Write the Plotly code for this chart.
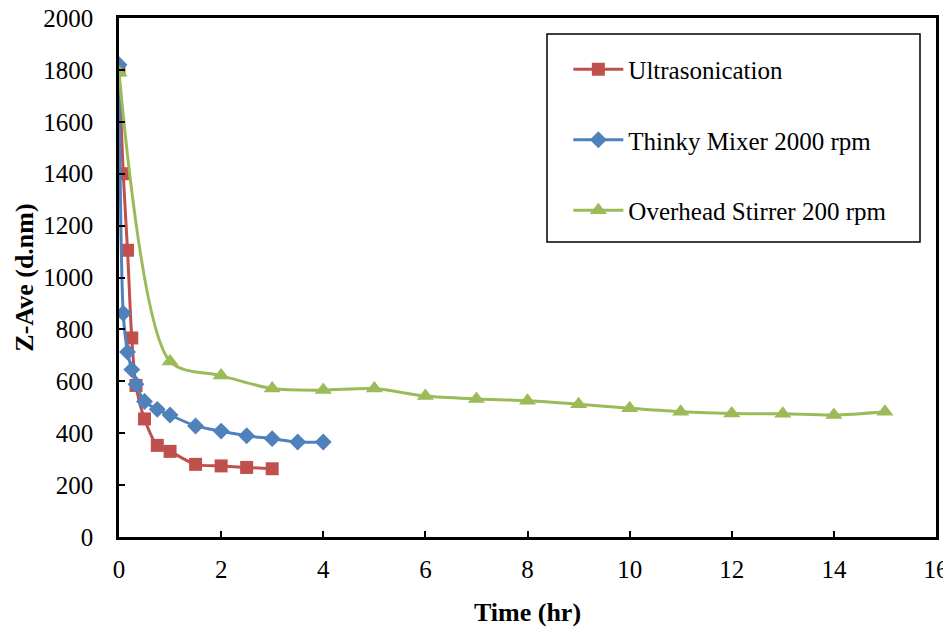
import plotly.graph_objects as go

# Data
ultra_t = [0, 0.083, 0.167, 0.25, 0.333, 0.5, 0.75, 1, 1.5, 2, 2.5, 3]
ultra_z = [1800, 1400, 1105, 767, 584, 455, 353, 330, 280, 274, 268, 263]

thinky_t = [0, 0.083, 0.167, 0.25, 0.333, 0.5, 0.75, 1, 1.5, 2, 2.5, 3, 3.5, 4]
thinky_z = [1820, 862, 713, 645, 589, 522, 492, 470, 428, 408, 390, 379, 366, 366]

stir_t = [0, 1, 2, 3, 4, 5, 6, 7, 8, 9, 10, 11, 12, 13, 14, 15]
stir_z = [1790, 676, 622, 572, 566, 572, 543, 532, 525, 512, 496, 483, 476, 475, 470, 483]

names = ["Ultrasonication", "Thinky Mixer 2000 rpm", "Overhead Stirrer 200 rpm"]
colors = ["#C0504D", "#4F81BD", "#9BBB59"]
symbols = ["square", "diamond", "triangle-up"]
sizes = [13, 13, 15]

x_ticks = list(range(0, 17, 2))
y_ticks = list(range(0, 2001, 200))

FONT = "Liberation Serif, Times New Roman, serif"

fig = go.Figure()
for i, (t, z) in enumerate([(ultra_t, ultra_z), (thinky_t, thinky_z), (stir_t, stir_z)]):
    fig.add_trace(go.Scatter(
        x=t, y=z, name=names[i], mode="lines+markers",
        line=dict(color=colors[i], width=3, shape="spline", smoothing=0.8),
        marker=dict(symbol=symbols[i], size=sizes[i], color=colors[i]),
        legendgroup=f"g{i}",
    ))

# page body has an 8px default margin, so the figure is offset by 8px
fig.update_layout(
    width=943, height=619,
    margin=dict(l=111, r=15, t=10, b=90, autoexpand=False),
    paper_bgcolor="white", plot_bgcolor="white",
    font=dict(family=FONT, size=25, color="black"),
    showlegend=True,
    legend=dict(
        x=0.55, y=0.945, xanchor="left", yanchor="top",
        bgcolor="rgba(0,0,0,0)", borderwidth=0,
        font=dict(family=FONT, size=25, color="black"),
        tracegroupgap=35, itemwidth=50,
    ),
    shapes=[dict(type="rect", xref="paper", yref="paper",
                 x0=(547 - 119) / 817, x1=(920 - 119) / 817,
                 y0=(537 - 242) / 519, y1=(537 - 34) / 519,
                 line=dict(color="black", width=1.5), fillcolor="rgba(0,0,0,0)")],
)

fig.update_xaxes(
    range=[0, 16], tickvals=x_ticks, ticktext=[str(v) for v in x_ticks],
    ticks="inside", ticklen=6, tickwidth=1.5, tickcolor="black",
    showline=True, linecolor="black", linewidth=2.5, mirror=True,
    showgrid=False, zeroline=False, automargin=False, ticklabeloverflow="allow",
    tickfont=dict(family=FONT, size=25), ticklabelstandoff=8,
    title=dict(text="<b>Time (hr)</b>", font=dict(family=FONT, size=26), standoff=23),
)
fig.update_yaxes(
    range=[0, 2000], tickvals=y_ticks, ticktext=[str(v) for v in y_ticks],
    ticks="inside", ticklen=6, tickwidth=1.5, tickcolor="black",
    showline=True, linecolor="black", linewidth=2.5, mirror=True,
    showgrid=False, zeroline=False, automargin=False, ticklabeloverflow="allow",
    tickfont=dict(family=FONT, size=25), ticklabelstandoff=18,
    title=dict(text="<b>Z-Ave (d.nm)</b>", font=dict(family=FONT, size=26), standoff=3),
)

fig.write_html("out.html")
